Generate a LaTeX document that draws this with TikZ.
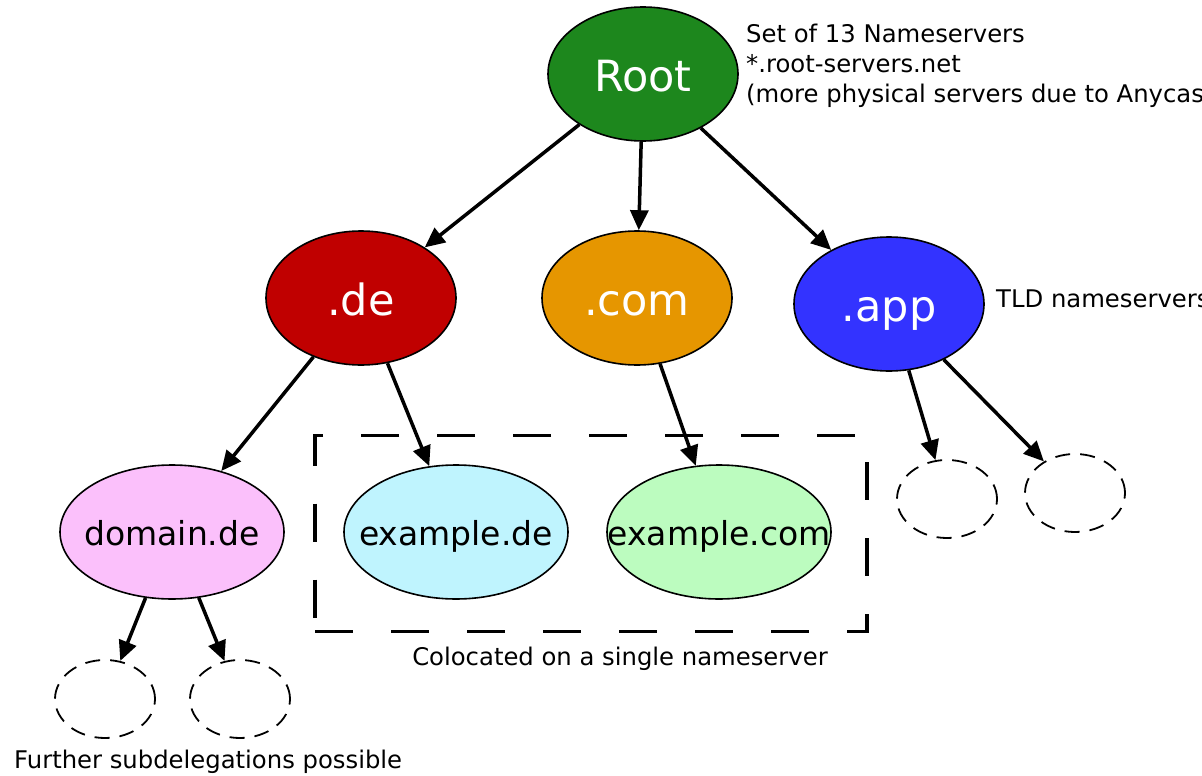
\documentclass[tikz,border=0pt]{standalone}
\usepackage{fontspec}
\setmainfont{DejaVu Sans}
\usetikzlibrary{shapes.geometric,arrows.meta}

\definecolor{rootgreen}{RGB}{29,135,29}
\definecolor{dered}{RGB}{192,0,0}
\definecolor{comorange}{RGB}{230,150,0}
\definecolor{appblue}{RGB}{51,51,255}
\definecolor{domainpink}{RGB}{251,192,251}
\definecolor{excyan}{RGB}{191,244,254}
\definecolor{exgreen}{RGB}{188,252,191}

% zero-width label so the ellipse keeps its fixed size
\newcommand{\flatlabel}[1]{\makebox[0pt]{#1}}

\tikzset{
  tld/.style={ellipse, draw=black, line width=1.6pt, inner sep=0pt,
    minimum width=190pt, minimum height=134pt, text=white,
    text height=35pt, text depth=0pt,
    font=\fontsize{43}{50}\selectfont},
  zone/.style={ellipse, draw=black, line width=1.6pt, inner sep=0pt,
    minimum width=224pt, minimum height=134pt, text=black,
    text height=26pt, text depth=0pt,
    font=\fontsize{33}{40}\selectfont},
  spare/.style={ellipse, draw=black, line width=1.8pt, inner sep=0pt,
    dash pattern=on 15pt off 10pt,
    minimum width=100pt, minimum height=78pt},
  deleg/.style={line width=3.5pt, -{Triangle[length=20pt,width=18pt]}},
  note/.style={inner sep=0pt, text=black, font=\fontsize{24.3}{29.5}\selectfont},
}

\begin{document}
\begin{tikzpicture}[x=1pt, y=-1pt]
  \useasboundingbox (0,0) rectangle (1202,776);

  % root and top-level domains
  \node[tld, fill=rootgreen] (root) at (643,74) {\flatlabel{Root}};
  \node[tld, fill=dered] (de) at (361,298) {\flatlabel{.de}};
  \node[tld, fill=comorange] (com) at (637,298) {\flatlabel{.com}};
  \node[tld, fill=appblue] (app) at (889,304) {\flatlabel{.app}};

  % second-level zones
  \node[zone, fill=domainpink] (domainde) at (172,532) {\flatlabel{domain.de}};
  \node[zone, fill=excyan] (exde) at (456,532) {\flatlabel{example.de}};
  \node[zone, fill=exgreen] (excom) at (719,532) {\flatlabel{example.com}};

  % placeholders for further delegations
  \node[spare] (sub1) at (105,699) {};
  \node[spare] (sub2) at (240,699) {};
  \node[spare] (app1) at (947,499) {};
  \node[spare] (app2) at (1075,493) {};

  % shared nameserver box
  \node[draw=black, line width=3.8pt, dash pattern=on 38pt off 38pt,
        minimum width=552pt, minimum height=196pt, inner sep=0pt]
        (coloc) at (591,533.5) {};

  % delegations
  \draw[deleg] (root) -- (de);
  \draw[deleg] (root) -- (com);
  \draw[deleg] (root) -- (app);
  \draw[deleg] (de) -- (domainde);
  \draw[deleg] (de) -- (exde);
  \draw[deleg] (com) -- (excom);
  \draw[deleg] (app) -- (app1);
  \draw[deleg] (app) -- (app2);
  \draw[deleg] (domainde) -- (sub1);
  \draw[deleg] (domainde) -- (sub2);

  % annotations
  \node[note, anchor=base west] (rootnote1) at (746,43) {Set of 13 Nameservers};
  \node[note, anchor=base west] (rootnote2) at (746,73) {*.root-servers.net};
  \node[note, anchor=base west] (rootnote3) at (746,102) {(more physical servers due to Anycast)};
  \node[note, anchor=base west] (tldnote) at (996,307) {TLD nameservers};
  \node[note, anchor=base] (colocnote) at (620,665) {Colocated on a single nameserver};
  \node[note, anchor=base west] (subnote) at (14,768) {Further subdelegations possible};
\end{tikzpicture}
\end{document}
